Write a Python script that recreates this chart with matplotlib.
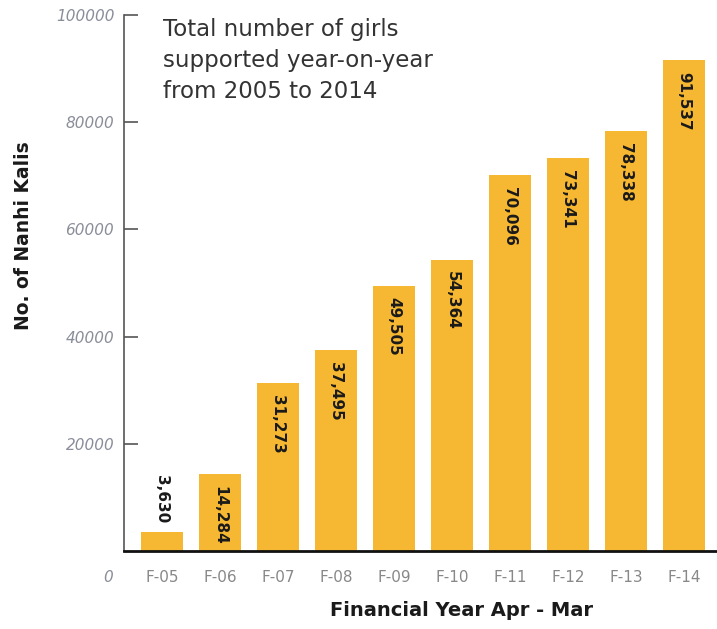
import matplotlib
matplotlib.use("Agg")
import matplotlib.pyplot as plt

categories = ["F-05", "F-06", "F-07", "F-08", "F-09", "F-10", "F-11", "F-12", "F-13", "F-14"]
values = [3630, 14284, 31273, 37495, 49505, 54364, 70096, 73341, 78338, 91537]
yticks = [20000, 40000, 60000, 80000, 100000]

plt.rcParams['font.family'] = ['DejaVu Sans']

W, H = 717, 629
fig = plt.figure(figsize=(W/100, H/100), dpi=100)
ax = fig.add_axes([124/W, 1-551/H, 1-124/W, (551-15)/H])

x = list(range(len(categories)))
ax.bar(x, values, width=0.73, color="#F6B832", zorder=2)
ax.set_xlim(-0.655, 9.57)
ax.set_ylim(0, 100000)

for xi, v in zip(x, values):
    lab = f"{v:,}"
    if v < 8000:
        ax.text(xi, v + 1500, lab, rotation=-90, ha='center', va='bottom',
                fontsize=11, fontweight='bold', color='#1a1a1a')
    else:
        ax.text(xi, v - 2200, lab, rotation=-90, ha='center', va='top',
                fontsize=11, fontweight='bold', color='#1a1a1a')

for s in ['top', 'right']:
    ax.spines[s].set_visible(False)
ax.spines['left'].set_color('#555555')
ax.spines['left'].set_linewidth(1.2)
ax.spines['bottom'].set_color('#111111')
ax.spines['bottom'].set_linewidth(2)

ax.set_yticks(yticks)
ax.set_yticklabels([str(t) for t in yticks], fontsize=11, color='#8a8d9a', style='italic')
ax.tick_params(axis='y', direction='in', length=10, width=1.2, color='#555555', pad=7)
ax.set_xticks(x)
ax.set_xticklabels(categories, fontsize=11, color='#888888')
ax.tick_params(axis='x', length=0, pad=14)

fig.text(108/W, 1-577/H, "0", fontsize=11, color='#8a8d9a', style='italic', ha='center', va='center')

fig.text(24/W, 1-236/H, "No. of Nanhi Kalis", rotation=90, fontsize=13.5, fontweight='bold',
         color='#1a1a1a', ha='center', va='center')
fig.text(462/W, 1-610/H, "Financial Year Apr - Mar", fontsize=14, fontweight='bold',
         color='#1a1a1a', ha='center', va='center')

fig.text(163/W, 1-18/H, "Total number of girls\nsupported year-on-year\nfrom 2005 to 2014",
         fontsize=16.5, color='#333333', ha='left', va='top', linespacing=1.45)

fig.savefig("out.png", dpi=100)
